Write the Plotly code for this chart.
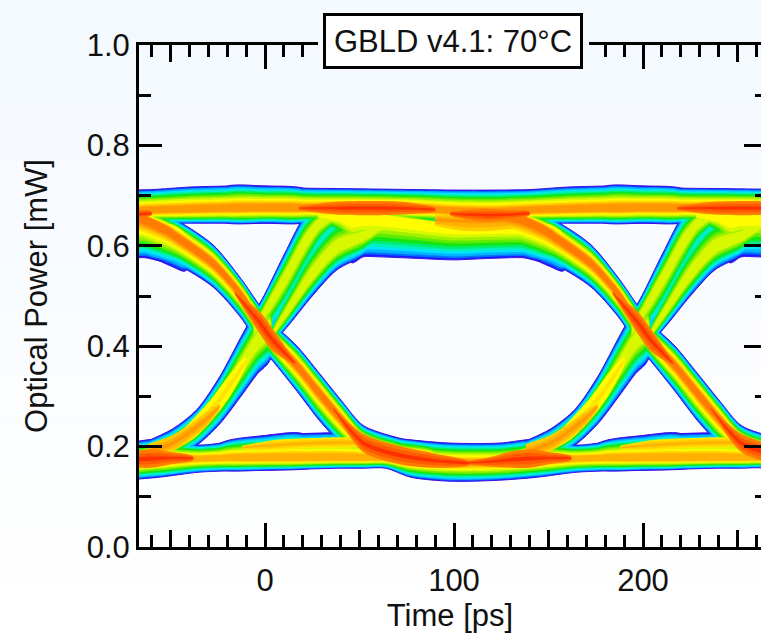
import plotly.graph_objects as go

# ---- text and axes
TITLE = "GBLD v4.1: 70°C"
X_LABEL = "Time [ps]"
Y_LABEL = "Optical Power [mW]"
X_TICKS = [0, 100, 200]
Y_TICKS = [0.0, 0.2, 0.4, 0.6, 0.8, 1.0]
EYE_PERIODS = [-200, 0, 200]

# ---- intensity levels, outermost to hottest, with share of ribbon half-width
LEVEL_COLORS = ["#1c1cff", "#0070ff", "#00b4ff", "#00e4ff", "#00f0c0", "#00ee70", "#14e614", "#60ec00", "#a0f000",
                "#d8f800", "#fffc00", "#ffe400", "#ffcc00", "#ffb000", "#ff9800", "#ff7c00", "#ff5c00", "#ff3000"]
LEVEL_SHARE = [1.0, .96, .92, .86, .81, .75, .69, .62, .55, .48, .41, .35, .30, .25, .20, .15, .10, .05]

# ---- density ribbons: time, peak power, extent above and below the peak
top_rail_t = [-35, -20, 0, 20, 40, 60, 80, 100, 120, 140, 160, 180, 200, 220, 235]
top_rail_peak = [.675, .674, .675, .675, .676, .676, .674, .668, .666, .670, .672, .674, .675, .675, .675]
top_rail_up = [.010, .045, .044, .040, .038, .037, .038, .043, .045, .042, .045, .045, .044, .040, .010]
top_rail_down = [.010, .029, .030, .030, .031, .031, .029, .023, .021, .025, .027, .029, .030, .030, .010]

droop_t = [28, 40, 46, 52, 60, 80, 100, 120, 140, 150, 158]
droop_peak = [.66, .66, .66, .66, .66, .65, .64, .64, .64, .64, .62]
droop_up = [.01] * 11
droop_down = [.01, .05, .094, .082, .082, .075, .068, .065, .065, .08, .07]

droop_hot_t = [90, 105, 120, 135]
droop_hot_peak = [.652, .650, .650, .655]
droop_hot_up = [.01, .012, .012, .01]
droop_hot_down = [.012, .02, .02, .015]

fall_t = [-100, -67, -53, -45, -27.5, -13, -2.6, 4.2, 17, 29, 41, 52, 71, 90]
fall_peak = [.668, .661, .637, .615, .566, .506, .446, .412, .362, .307, .253, .207, .183, .172]
fall_up = [.01, .01, .022, .032, .036, .030, .034, .034, .038, .038, .036, .035, .034, .03]
fall_down = [.04, .08, .07, .056, .048, .048, .046, .042, .052, .056, .05, .03, .02, .02]

strand1_t = [-6, -0.5, 10.6, 22, 29, 38]
strand1_peak = [.43, .466, .536, .612, .647, .665]
strand1_up = [.035, .035, .05, .052, .03, .01]
strand1_down = [.03, .05, .062, .062, .05, .02]

strand2_t = [3.7, 7, 13, 25, 38, 52, 62, 72]
strand2_peak = [.422, .442, .476, .542, .596, .62, .64, .65]
strand2_up = [.02, .03, .042, .062, .062, .035, .02, .005]
strand2_down = [.015, .024, .032, .042, .044, .04, .03, .01]

rise_t = [-66, -49, -36, -24, -11.6, -4, 2.6]
rise_peak = [.185, .20, .238, .292, .366, .41, .435]
rise_up = [.02, .035, .036, .047, .06, .065, .065]
rise_down = [.02, .02, .035, .047, .06, .065, .063]

rise_yellow_t = [-48, -38, -28, -18, -10]
rise_yellow_peak = [.205, .235, .275, .325, .37]
rise_yellow_up = [.012, .02, .022, .022, .008]
rise_yellow_down = [.012, .02, .022, .022, .008]

rise_orange_t = [-62, -50, -40, -30, -24]
rise_orange_peak = [.19, .205, .228, .258, .28]
rise_orange_up = [.015, .016, .016, .014, .004]
rise_orange_down = [.015, .016, .016, .014, .004]

low_rail_t = [-35, -20, 0, 20, 40, 52, 64, 77, 98, 124, 144, 165, 185, 200, 220, 235]
low_rail_peak = [.176, .177, .176, .176, .176, .176, .176, .172, .168, .168, .172, .176, .177, .176, .176, .176]
low_rail_up = [.010, .035, .046, .050, .051, .045, .04, .041, .039, .039, .043, .027, .035, .046, .050, .010]
low_rail_down = [.010, .025, .023, .021, .019, .019, .019, .033, .037, .035, .033, .027, .025, .023, .021, .010]

low_shoulder_t = [-12, 5, 25, 45, 55]
low_shoulder_peak = [.198, .203, .207, .208, .205]
low_shoulder_up = [.004, .010, .010, .010, .004]
low_shoulder_down = [.004, .010, .010, .010, .004]

hot_top_a_t = [18, 30, 40, 55, 70, 80, 90]
hot_top_a_peak = [.675, .675, .675, .675, .675, .674, .672]
hot_top_a_hw = [.004, .010, .013, .014, .013, .010, .004]

hot_top_b_t = [98, 108, 118, 128, 140]
hot_top_b_peak = [.664, .662, .661, .662, .665]
hot_top_b_hw = [.004, .010, .013, .010, .004]

hot_cross_t = [-16, -2.6, 4.2, 16]
hot_cross_peak = [.506, .446, .412, .366]
hot_cross_hw = [.003, .022, .022, .003]

hot_fall_t = [36, 52, 71, 90, 108]
hot_fall_peak = [.276, .207, .183, .172, .167]
hot_fall_hw = [.003, .018, .018, .014, .004]

hot_low_t = [108, 120, 130, 140, 150, 162]
hot_low_peak = [.168, .170, .174, .176, .177, .177]
hot_low_hw = [.004, .010, .016, .018, .012, .004]

# ---- page tint, top to bottom
PAGE_TINTS = ["#f4f9ff", "#f5faff", "#f6faff", "#f7fbff", "#f8fbff", "#f9fcff",
              "#fafcff", "#fbfdff", "#fcfdfe", "#fdfefe", "#fefefe", "#ffffff"]

# (t, peak, up, down, first level, last level)
RIBBONS = [
    (droop_t, droop_peak, droop_up, droop_down, 0, 10),
    (droop_hot_t, droop_hot_peak, droop_hot_up, droop_hot_down, 12, 14),
    (top_rail_t, top_rail_peak, top_rail_up, top_rail_down, 0, 14),
    (low_rail_t, low_rail_peak, low_rail_up, low_rail_down, 0, 13),
    (low_shoulder_t, low_shoulder_peak, low_shoulder_up, low_shoulder_down, 11, 13),
    (fall_t, fall_peak, fall_up, fall_down, 0, 15),
    (strand1_t, strand1_peak, strand1_up, strand1_down, 0, 9),
    (strand2_t, strand2_peak, strand2_up, strand2_down, 0, 9),
    (rise_t, rise_peak, rise_up, rise_down, 0, 9),
    (rise_yellow_t, rise_yellow_peak, rise_yellow_up, rise_yellow_down, 10, 11),
    (rise_orange_t, rise_orange_peak, rise_orange_up, rise_orange_down, 12, 14),
    (hot_top_a_t, hot_top_a_peak, hot_top_a_hw, hot_top_a_hw, 15, 17),
    (hot_top_b_t, hot_top_b_peak, hot_top_b_hw, hot_top_b_hw, 15, 17),
    (hot_cross_t, hot_cross_peak, hot_cross_hw, hot_cross_hw, 15, 17),
    (hot_fall_t, hot_fall_peak, hot_fall_hw, hot_fall_hw, 15, 17),
    (hot_low_t, hot_low_peak, hot_low_hw, hot_low_hw, 15, 17),
]

FONT = "Liberation Sans"
INK = "#111111"
W, H = 761, 634
L, R, T, B = 139, 761, 45, 547
X_RANGE = [(L - 265) / 1.89, (R - 265) / 1.89]


def px(p):
    return (p - L) / (R - L)


def py(p):
    return (B - p) / (B - T)


fig = go.Figure()
for level, color in enumerate(LEVEL_COLORS):
    xs, ys = [], []
    for t, peak, up, down, lo, hi in RIBBONS:
        if not lo <= level <= hi:
            continue
        c = .2 if lo == 0 else .03
        f = (LEVEL_SHARE[level] - LEVEL_SHARE[hi] + c) / (LEVEL_SHARE[lo] - LEVEL_SHARE[hi] + c)
        for shift in EYE_PERIODS:
            xs += [v + shift for v in t] + [v + shift for v in reversed(t)] + [None]
            ys += [p + f * u for p, u in zip(peak, up)]
            ys += [p - f * d for p, d in zip(reversed(peak), reversed(down))] + [None]
    fig.add_trace(go.Scatter(x=xs, y=ys, mode="lines", fill="toself", fillcolor=color,
                             line=dict(color="#3a10e8" if level == 0 else color,
                                       width=1 if level == 0 else 0, shape="spline", smoothing=0.8),
                             hoverinfo="skip", showlegend=False))

# carriers so that the extra tick axes get drawn
for xa, ya in [("x2", "y"), ("x3", "y"), ("x4", "y"), ("x", "y2")]:
    fig.add_trace(go.Scatter(x=[None], y=[None], xaxis=xa, yaxis=ya, showlegend=False))

tick_font = dict(family=FONT, size=31, color=INK)
base_x = dict(range=X_RANGE, showgrid=False, zeroline=False, ticks="inside", tickcolor="black",
              tickwidth=3)
minor_x = dict(dtick=10, tick0=0, ticks="inside", ticklen=12, tickwidth=3, tickcolor="black",
               showgrid=False)
fig.update_layout(
    width=W, height=H, autosize=False,
    margin=dict(l=L, r=W - R, t=T, b=H - B),
    paper_bgcolor="#f8fbff", plot_bgcolor="rgba(0,0,0,0)",
    xaxis=dict(**base_x, tickmode="array", tickvals=X_TICKS, ticklen=24, tickfont=tick_font,
               ticklabelstandoff=4, showline=True, linewidth=3, linecolor="black", minor=minor_x,
               title=dict(text=X_LABEL, font=tick_font, standoff=8)),
    xaxis2=dict(**base_x, overlaying="x", anchor="y", side="bottom", dtick=50, tick0=0, ticklen=17,
                showticklabels=False),
    xaxis3=dict(**base_x, overlaying="x", anchor="y", side="top", tickmode="array", tickvals=X_TICKS,
                ticklen=24, showticklabels=False, showline=True, linewidth=3, linecolor="black",
                minor=minor_x),
    xaxis4=dict(**base_x, overlaying="x", anchor="y", side="top", dtick=50, tick0=0, ticklen=17,
                showticklabels=False),
    yaxis=dict(range=[0, 1], showgrid=False, zeroline=False, ticks="inside", tickcolor="black",
               tickwidth=3, ticklen=23, tickmode="array", tickvals=Y_TICKS, ticktext=[f"{v:.1f}" for v in Y_TICKS],
               tickfont=tick_font, showline=True, linewidth=3, linecolor="black",
               minor=dict(dtick=0.1, tick0=0, ticks="inside", ticklen=12, tickwidth=3, tickcolor="black", showgrid=False),
               title=dict(text=Y_LABEL, font=tick_font, standoff=30)),
    yaxis2=dict(range=[0, 1], overlaying="y", side="right", anchor="x", showgrid=False, zeroline=False,
                ticks="inside", tickcolor="black", tickwidth=3, ticklen=17, tickmode="array", tickvals=Y_TICKS,
                showticklabels=False, showline=False,
                minor=dict(dtick=0.1, tick0=0, ticks="inside", ticklen=6, tickwidth=3, tickcolor="black", showgrid=False)),
    shapes=[dict(type="rect", xref="paper", yref="paper", layer="below", line_width=0,
                 x0=px(0), x1=px(W), y0=py(i * H / len(PAGE_TINTS)), y1=py((i + 1) * H / len(PAGE_TINTS)),
                 fillcolor=c) for i, c in enumerate(PAGE_TINTS)]
    + [dict(type="rect", xref="paper", yref="paper", layer="above", line_width=0,
            x0=px(318), x1=px(589), y0=py(72), y1=py(9), fillcolor="#f6faff")],
    annotations=[dict(text=TITLE, xref="paper", yref="paper", x=px(453), y=py(41), xanchor="center",
                      yanchor="middle", showarrow=False, font=tick_font, bgcolor="white",
                      bordercolor="black", borderwidth=3, width=254, height=50, borderpad=0)],
)
fig.write_html("out.html", config={"displayModeBar": False},
               post_script="document.body.style.margin='0';document.body.style.overflow='hidden';")
